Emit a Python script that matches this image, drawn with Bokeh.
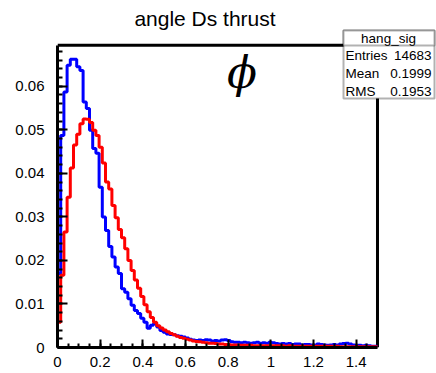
import numpy as np
from bokeh.plotting import figure
from bokeh.models import (Range1d, SingleIntervalTicker, CustomJSTickFormatter,
                          Label, BoxAnnotation)
from bokeh.embed import file_html
from bokeh.resources import INLINE

# ---- data (bin contents) ----
x_lo, x_hi, n_bins = 0.0, 1.5, 100

blue_vals = [
    0.0170, 0.0487, 0.0587, 0.0648, 0.0662, 0.0662, 0.0645, 0.0636, 0.0564, 0.0549,
    0.0499, 0.0457, 0.0446, 0.0368, 0.0300, 0.0269, 0.0232, 0.0208, 0.0185, 0.0170,
    0.0135, 0.0127, 0.0112, 0.0097, 0.0085, 0.0078, 0.0067, 0.0058, 0.0044, 0.0051,
    0.0055, 0.0047, 0.0039, 0.0035, 0.0031, 0.0030, 0.0029, 0.0027, 0.0026, 0.0024,
    0.0022, 0.0019, 0.0017, 0.0016, 0.0017, 0.0016, 0.0018, 0.0017, 0.0015, 0.0016,
    0.0015, 0.0017, 0.0018, 0.0016, 0.0013, 0.0012, 0.0012, 0.0011, 0.0012, 0.0011,
    0.0010, 0.0011, 0.0012, 0.0010, 0.0011, 0.0010, 0.0012, 0.0011, 0.0009, 0.0008,
    0.0009, 0.0008, 0.0009, 0.0007, 0.0008, 0.0008, 0.0006, 0.0007, 0.0007, 0.0006,
    0.0006, 0.0008, 0.0007, 0.0006, 0.0005, 0.0006, 0.0007, 0.0006, 0.0008, 0.0009,
    0.0010, 0.0008, 0.0006, 0.0004, 0.0005, 0.0004, 0.0005, 0.0004, 0.0003, 0.0003,
]

red_vals = [
    0.0058, 0.0166, 0.0265, 0.0345, 0.0412, 0.0465, 0.0490, 0.0514, 0.0525, 0.0524,
    0.0517, 0.0499, 0.0487, 0.0460, 0.0424, 0.0380, 0.0364, 0.0326, 0.0298, 0.0271,
    0.0252, 0.0227, 0.0200, 0.0177, 0.0155, 0.0136, 0.0117, 0.0098, 0.0082, 0.0069,
    0.0058, 0.0050, 0.0045, 0.0040, 0.0036, 0.0032, 0.0029, 0.0026, 0.0023, 0.0021,
    0.0019, 0.0017, 0.0015, 0.0014, 0.0013, 0.0012, 0.0011, 0.0010, 0.0010, 0.0009,
    0.0008, 0.0008, 0.0007, 0.0007, 0.0006, 0.0006, 0.0006, 0.0005, 0.0005, 0.0005,
    0.0005, 0.0004, 0.0004, 0.0004, 0.0004, 0.0004, 0.0004, 0.0004, 0.0004, 0.0004,
    0.0004, 0.0003, 0.0004, 0.0003, 0.0003, 0.0003, 0.0003, 0.0003, 0.0003, 0.0003,
    0.0003, 0.0003, 0.0003, 0.0003, 0.0003, 0.0003, 0.0002, 0.0003, 0.0002, 0.0002,
    0.0002, 0.0002, 0.0002, 0.0002, 0.0002, 0.0002, 0.0002, 0.0002, 0.0002, 0.0002,
]

title_text = "angle Ds thrust"
stats_name = "hang_sig"
stats_rows = [("Entries", "14683"), ("Mean", "0.1999"), ("RMS", "0.1953")]
marker_text = "\u03d5"

y_max = 0.0694          # top of the histogram frame
x_view_end = 1.7766     # canvas extends right of the frame (stats box area)
y_view_end = 0.0797     # canvas extends above the frame (title area)

FONT = "Liberation Sans"

# ---- figure ----
p = figure(width=436, height=373, output_backend="svg", toolbar_location=None,
           x_range=Range1d(x_lo, x_view_end), y_range=Range1d(0, y_view_end),
           min_border_left=57, min_border_right=0, min_border_top=0,
           min_border_bottom=26)
p.background_fill_color = "white"
p.border_fill_color = "white"
p.outline_line_color = None
p.xgrid.visible = False
p.ygrid.visible = False

fmt = CustomJSTickFormatter(code="return String(Number(tick.toFixed(4)));")

p.xaxis.ticker = SingleIntervalTicker(interval=0.2, num_minor_ticks=4)
p.yaxis.ticker = SingleIntervalTicker(interval=0.01, num_minor_ticks=5)
p.xaxis.bounds = (x_lo, x_hi)
p.yaxis.bounds = (0, y_max)
for ax in (p.xaxis, p.yaxis):
    ax.formatter = fmt
    ax.axis_line_color = "black"
    ax.axis_line_width = 3
    ax.major_tick_line_color = "black"
    ax.minor_tick_line_color = "black"
    ax.major_tick_line_width = 2
    ax.minor_tick_line_width = 2
    ax.major_tick_out = 0
    ax.minor_tick_out = 0
    ax.major_label_text_font = FONT
    ax.major_label_text_font_size = "15px"
    ax.major_label_text_color = "black"
p.xaxis.major_tick_in = 8
p.xaxis.minor_tick_in = 4
p.yaxis.major_tick_in = 10
p.yaxis.minor_tick_in = 5
p.xaxis.major_label_standoff = 9
p.yaxis.major_label_standoff = 13

# ---- frame lines (top and right) ----
p.segment(x0=[x_lo, x_hi], y0=[y_max, 0], x1=[x_hi, x_hi], y1=[y_max, y_max],
          line_color="black", line_width=3)

# ---- histograms as step outlines ----
edges = np.linspace(x_lo, x_hi, n_bins + 1)


def outline(vals):
    xs = [edges[0]] + list(edges)
    ys = [0.0] + list(vals) + [vals[-1]]
    return xs, ys


bx, by = outline(blue_vals)
rx, ry = outline(red_vals)
p.step(bx, by, mode="after", line_color="#0000ff", line_width=3)
p.step(rx, ry, mode="after", line_color="#ff0000", line_width=3)

# ---- title ----
p.add_layout(Label(x=147.5, y=329, x_units="screen", y_units="screen",
                   text=title_text, text_font=FONT, text_font_size="21px",
                   text_align="center", text_baseline="middle",
                   text_color="black"))

# ---- phi marker ----
p.add_layout(Label(x=0.865, y=0.0632, text=marker_text,
                   text_font="DejaVu Serif", text_font_style="italic",
                   text_font_size="44px", text_align="center",
                   text_baseline="middle", text_color="black"))

# ---- stats box ----
p.add_layout(BoxAnnotation(left=286, right=377, top=317, bottom=249,
                           left_units="screen", right_units="screen",
                           top_units="screen", bottom_units="screen",
                           fill_color="white", fill_alpha=1.0,
                           line_color="black", line_width=2, level="overlay"))
p.add_layout(BoxAnnotation(left=286, right=377, top=317, bottom=302,
                           left_units="screen", right_units="screen",
                           top_units="screen", bottom_units="screen",
                           fill_color="white", fill_alpha=1.0,
                           line_color="black", line_width=2, level="overlay"))
p.add_layout(Label(x=331, y=309.5, x_units="screen", y_units="screen",
                   text=stats_name, text_font=FONT, text_font_size="13.5px",
                   text_align="center", text_baseline="middle",
                   text_color="black", level="overlay"))
row_y = [292, 274, 256]
for (name, val), yy in zip(stats_rows, row_y):
    p.add_layout(Label(x=288, y=yy, x_units="screen", y_units="screen",
                       text=name, text_font=FONT, text_font_size="13.5px",
                       text_align="left", text_baseline="middle",
                       text_color="black", level="overlay"))
    p.add_layout(Label(x=374, y=yy, x_units="screen", y_units="screen",
                       text=val, text_font=FONT, text_font_size="13.5px",
                       text_align="right", text_baseline="middle",
                       text_color="black", level="overlay"))

open("out.html", "w").write(file_html(p, INLINE))
